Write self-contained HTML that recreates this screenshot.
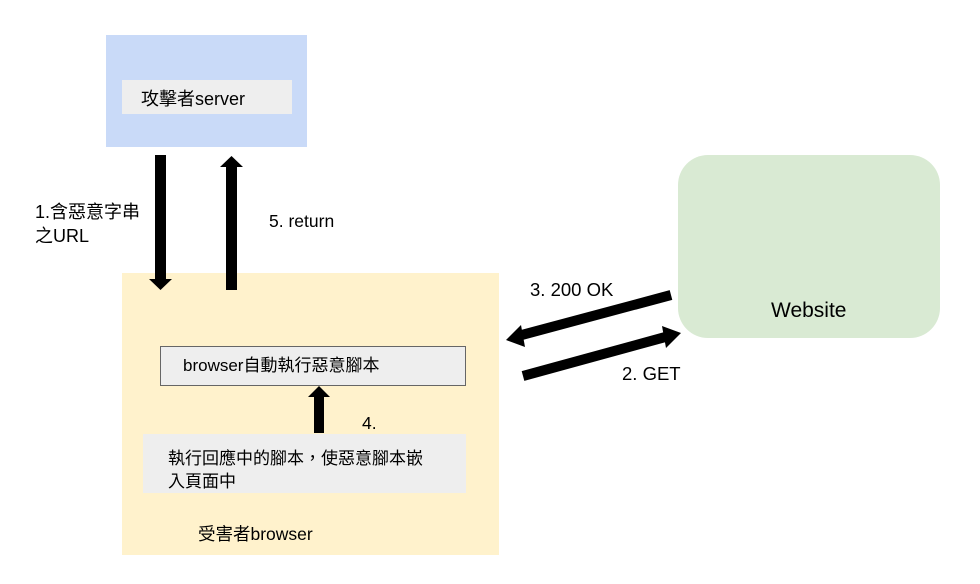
<!DOCTYPE html>
<html><head><meta charset="utf-8"><style>
html,body{margin:0;padding:0;background:#fff;}
svg{display:block;}
text{font-family:"Liberation Sans","Noto Sans CJK TC",sans-serif;fill:#000;}
</style></head><body>
<svg width="980" height="584" viewBox="0 0 980 584" xmlns="http://www.w3.org/2000/svg">
<rect x="106" y="35" width="201" height="112" fill="#c9daf8"/>
<rect x="122" y="80" width="170" height="34" fill="#eeeeee"/>
<text x="141" y="105" font-size="18">攻擊者server</text>

<rect x="122" y="273" width="377" height="282" fill="#fff2cc"/>
<rect x="160.5" y="346.5" width="305" height="39" fill="#eeeeee" stroke="#666" stroke-width="1"/>
<text x="183" y="371" font-size="17">browser自動執行惡意腳本</text>
<rect x="143" y="434" width="323" height="59" fill="#eeeeee"/>
<text x="168" y="464" font-size="17">執行回應中的腳本，使惡意腳本嵌</text>
<text x="168" y="487" font-size="17">入頁面中</text>
<text x="198" y="540" font-size="17.5">受害者browser</text>

<rect x="678" y="155" width="262" height="183" rx="30" fill="#d9ead3"/>
<text x="771" y="317" font-size="21">Website</text>

<path d="M155,155 H166 V279 H172 L160.5,290 L149,279 H155 Z" fill="#000"/>
<path d="M226,290 H237 V167 H243 L231.5,156 L220,167 H226 Z" fill="#000"/>
<path d="M314,433 H324 V397 H330 L319,386 L308,397 H314 Z" fill="#000"/>
<line x1="671" y1="295" x2="518" y2="336" stroke="#000" stroke-width="10"/>
<path d="M506,340 L521,325 L525,347 Z" fill="#000"/>
<line x1="523" y1="376" x2="669" y2="336" stroke="#000" stroke-width="10"/>
<path d="M681,333 L666,348 L662,326 Z" fill="#000"/>

<text x="35" y="218" font-size="18">1.含惡意字串</text>
<text x="35" y="242" font-size="18">之URL</text>
<text x="269" y="227" font-size="17.5">5. return</text>
<text x="530" y="296" font-size="18.5">3. 200 OK</text>
<text x="622" y="380" font-size="18.5">2. GET</text>
<text x="362" y="429" font-size="17.5">4.</text>
</svg>
</body></html>
